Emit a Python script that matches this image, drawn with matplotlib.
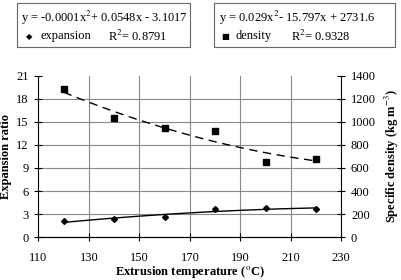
import numpy as np
import matplotlib.pyplot as plt

plt.rcParams['font.family'] = ['Liberation Serif', 'DejaVu Serif']
plt.rcParams['mathtext.fontset'] = 'stix'

temperature = [120, 140, 160, 180, 200, 220]
expansion = [2.1, 2.3, 2.6, 3.65, 3.85, 3.6]
density = [1280, 1035, 943, 917, 655, 680]

exp_ticks = [0, 3, 6, 9, 12, 15, 18, 21]
dens_ticks = [0, 200, 400, 600, 800, 1000, 1200, 1400]
temp_ticks = [110, 130, 150, 170, 190, 210, 230]

FS = 9

fig = plt.figure(figsize=(4.01, 2.8), dpi=100)
ax = fig.add_axes([0.096, 0.153, 0.755, 0.577])
ax2 = ax.twinx()

# trend lines (2nd order polynomial fits)
xs = np.linspace(120, 220, 100)
pe = np.polyfit(temperature, expansion, 2)
pd_ = np.polyfit(temperature, density, 2)

ax.plot(xs, np.polyval(pe, xs), color='black', lw=1.0)
ax.plot(temperature, expansion, 'D', color='black', ms=3)
ax2.plot(xs, np.polyval(pd_, xs), color='black', lw=1.0, ls=(0, (6, 4)))
ax2.plot(temperature, density, 's', color='black', ms=4.5)

ax.set_xlim(110, 230)
ax.set_ylim(0, 21)
ax2.set_ylim(0, 1400)
ax.set_xticks(temp_ticks)
ax.set_yticks(exp_ticks)
ax2.set_yticks(dens_ticks)

for y in exp_ticks[1:-1]:
    ax.axhline(y, color='#888888', lw=0.8, zorder=0)
for x in temp_ticks[1:-1]:
    ax.axvline(x, color='#888888', lw=0.8, zorder=0)

for a in (ax, ax2):
    a.spines['top'].set_visible(False)
    a.tick_params(direction='inout', length=6, width=0.8, labelsize=FS, pad=4)
ax.tick_params(axis='x', pad=8)
ax2.spines['left'].set_visible(False)
ax.spines['right'].set_visible(False)

ax.set_xlabel('Extrusion temperature ($^{\\mathrm{o}}$C)', fontsize=FS,
              fontweight='bold', labelpad=0)
ax.set_ylabel('Expansion ratio', fontsize=FS, fontweight='bold', labelpad=3)
ax2.set_ylabel('Specific density (kg m$^{-3}$)', fontsize=FS,
               fontweight='bold', labelpad=5)

# equation boxes
r1 = plt.Rectangle((0.043, 0.832), 0.432, 0.157, transform=fig.transFigure,
                   fc='white', ec='#666666', lw=0.8)
r2 = plt.Rectangle((0.534, 0.832), 0.452, 0.157, transform=fig.transFigure,
                   fc='white', ec='#666666', lw=0.8)
fig.add_artist(r1)
fig.add_artist(r2)

fig.text(0.053, 0.937, 'y = -0.0001x$^2$+ 0.0548x - 3.1017', fontsize=FS, va='center')
fig.text(0.545, 0.937, 'y = 0.029x$^2$- 15.797x + 2731.6', fontsize=FS, va='center')
fig.text(0.065, 0.870, '\u25c6', fontsize=6, va='center', family='DejaVu Sans')
fig.text(0.100, 0.870, 'expansion', fontsize=FS, va='center')
fig.text(0.270, 0.870, 'R$^2$= 0.8791', fontsize=FS, va='center')
fig.text(0.551, 0.870, '\u25a0', fontsize=6, va='center', family='DejaVu Sans')
fig.text(0.588, 0.870, 'density', fontsize=FS, va='center')
fig.text(0.725, 0.870, 'R$^2$= 0.9328', fontsize=FS, va='center')

fig.savefig('out.png', dpi=100)
